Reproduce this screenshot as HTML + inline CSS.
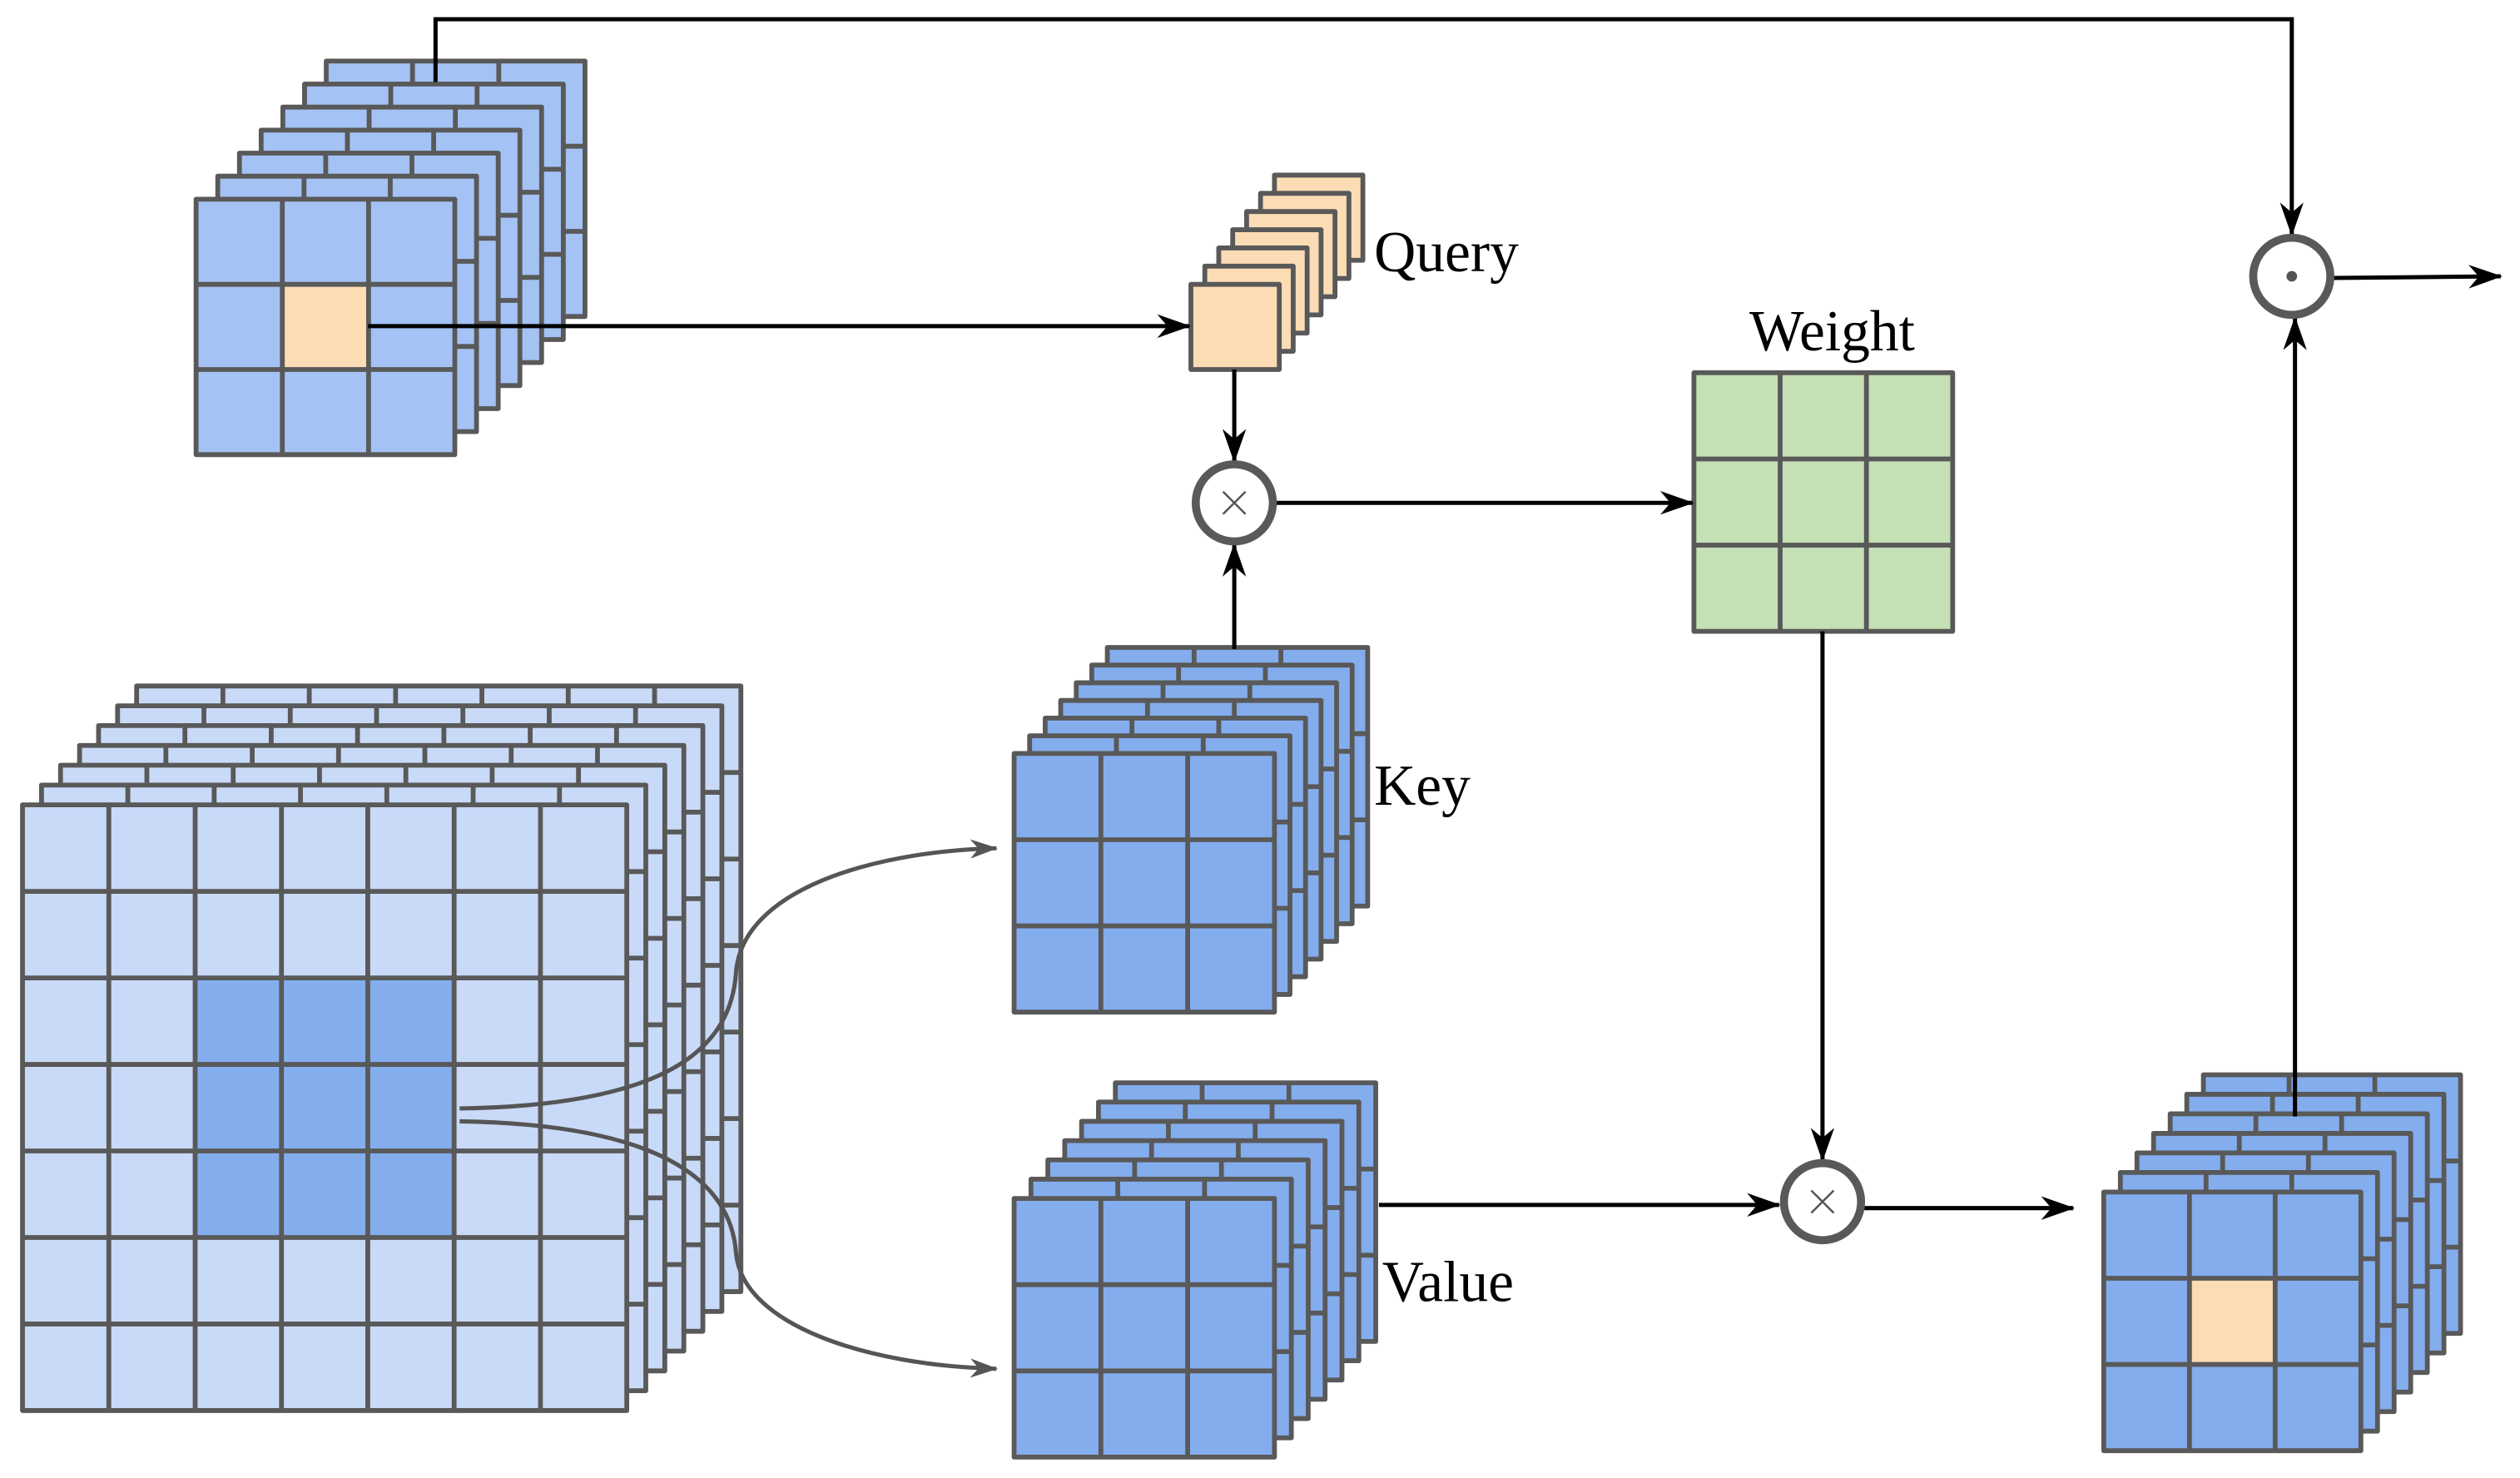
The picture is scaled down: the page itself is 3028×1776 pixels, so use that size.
<!DOCTYPE html>
<html><head><meta charset="utf-8">
<style>
html,body{margin:0;padding:0;background:#fff;}
svg{display:block;}
</style></head>
<body>
<svg id="s" width="3028" height="1776" viewBox="0 0 1568 920" preserveAspectRatio="none" xmlns="http://www.w3.org/2000/svg">
<defs>
<marker id="ah" viewBox="0 0 20 14" refX="19" refY="7" markerWidth="21" markerHeight="15" markerUnits="userSpaceOnUse" orient="auto">
<path d="M0,0 L20,7 L0,14 L6,7 Z" fill="#000"/>
</marker>
<marker id="ahg" viewBox="0 0 20 14" refX="19" refY="7" markerWidth="18" markerHeight="12" markerUnits="userSpaceOnUse" orient="auto">
<path d="M0,0 L20,7 L0,14 L6,7 Z" fill="#555"/>
</marker>
</defs>
<g id="stacks"></g>

<g fill="none" stroke="#000" stroke-width="2.6">
<polyline points="271,51 271,12 1426,12 1426,146" marker-end="url(#ah)"/>
<line x1="229" y1="203" x2="740" y2="203" marker-end="url(#ah)"/>
<line x1="768" y1="230" x2="768" y2="287" marker-end="url(#ah)"/>
<line x1="768" y1="404" x2="768" y2="339" marker-end="url(#ah)"/>
<line x1="793" y1="313" x2="1053" y2="313" marker-end="url(#ah)"/>
<line x1="1134" y1="393" x2="1134" y2="722" marker-end="url(#ah)"/>
<line x1="858" y1="750" x2="1107" y2="750" marker-end="url(#ah)"/>
<line x1="1160" y1="752" x2="1290" y2="752" marker-end="url(#ah)"/>
<line x1="1428" y1="695" x2="1428" y2="198" marker-end="url(#ah)"/>
<line x1="1452" y1="173" x2="1556" y2="172" marker-end="url(#ah)"/>
</g>
<g fill="none" stroke="#555" stroke-width="2.6">
<path d="M286,690 C420,688 455,650 458,605 C462,555 540,530 620,528" marker-end="url(#ahg)"/>
<path d="M286,698 C420,700 455,740 458,780 C462,825 540,850 620,852" marker-end="url(#ahg)"/>
</g>

<g stroke="#595959" stroke-width="5" fill="#fff">
<circle cx="768" cy="313" r="24"/>
<circle cx="1134" cy="748" r="24"/>
<circle cx="1426" cy="172" r="24"/>
</g>
<g stroke="#555" stroke-width="1.3">
<line x1="761" y1="306" x2="775" y2="320"/><line x1="775" y1="306" x2="761" y2="320"/>
<line x1="1127" y1="741" x2="1141" y2="755"/><line x1="1141" y1="741" x2="1127" y2="755"/>
</g>
<circle cx="1426" cy="172" r="3.3" fill="#555"/>

<g font-family="'Liberation Serif','DejaVu Serif',serif" font-size="36" fill="#000">
<text x="855" y="169">Query</text>
<text x="1140" y="218" text-anchor="middle">Weight</text>
<text x="855" y="501">Key</text>
<text x="860" y="810">Value</text>
</g>
</svg>
<script>
(function(){
var NS="http://www.w3.org/2000/svg",g=document.getElementById('stacks');
var ST="#595959",SW=3;
function el(t,a){var e=document.createElementNS(NS,t);for(var k in a)e.setAttribute(k,a[k]);g.appendChild(e);return e;}
function layer(x,y,w,h,n,fill,special){
  var cw=w/n,ch=h/n;
  el('rect',{x:x,y:y,width:w,height:h,fill:fill});
  if(special){special.forEach(function(s){el('rect',{x:x+s[0]*cw,y:y+s[1]*ch,width:cw,height:ch,fill:s[2]});});}
  for(var i=1;i<n;i++){
    el('line',{x1:x+i*cw,y1:y,x2:x+i*cw,y2:y+h,stroke:ST,'stroke-width':SW});
    el('line',{x1:x,y1:y+i*ch,x2:x+w,y2:y+i*ch,stroke:ST,'stroke-width':SW});
  }
  el('rect',{x:x,y:y,width:w,height:h,fill:'none',stroke:ST,'stroke-width':SW,'stroke-linejoin':'round'});
}
function stack(fx,fy,w,h,n,layers,bx,by,fill,frontSpecial,backSpecial){
  var dx=(bx-fx)/(layers-1),dy=(by-fy)/(layers-1);
  for(var i=layers-1;i>=0;i--){
    layer(fx+dx*i,fy+dy*i,w,h,n,fill,i==0?frontSpecial:backSpecial);
  }
}
var L1="#a4c2f4",L2="#c9daf8",D="#84adee",O="#fcdcb4";
stack(122,124,161,159,3,7,203,38,L1,[[1,1,O]]);
var c=[];for(var a=2;a<5;a++)for(var b=2;b<5;b++)c.push([a,b,D]);
stack(14,501,376,377,7,7,85,427,L2,c);
stack(741,177,55,53,1,7,793,109,O);
stack(631,469,162,161,3,7,689,403,D);
stack(631,746,162,161,3,7,694,674,D);
stack(1309,742,160,161,3,7,1371,669,D,[[1,1,O]]);
layer(1054,232,161,161,3,"#c5e0b4");
})();
</script>
</body></html>
